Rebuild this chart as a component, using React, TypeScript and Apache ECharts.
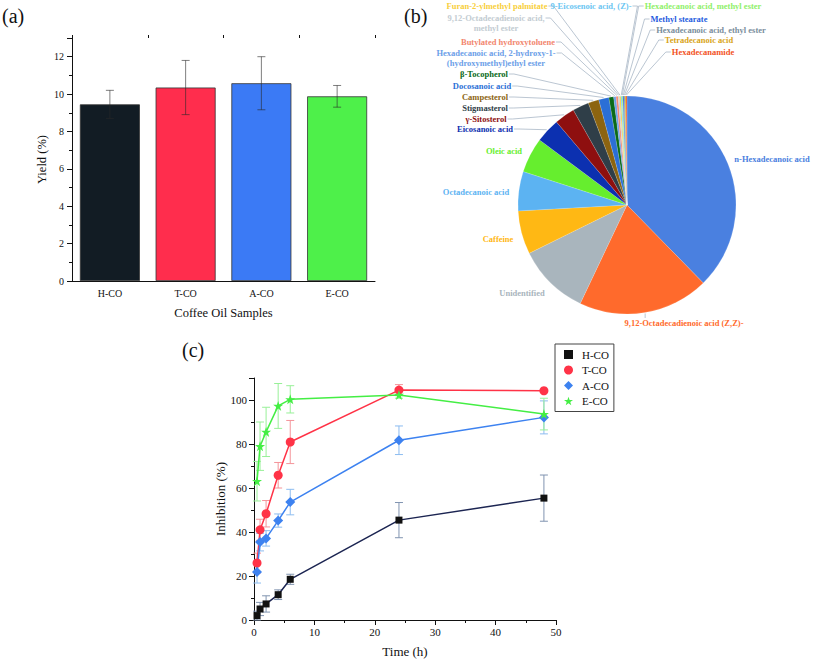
import React, { useEffect, useRef } from "react";
import * as echarts from "echarts";

// ---------- Panel (a): yield ----------
const sampleNames = ["H-CO", "T-CO", "A-CO", "E-CO"];
const yieldValues = [9.45, 10.35, 10.58, 9.88];
const yieldErrors = [0.75, 1.45, 1.42, 0.58];
const yieldTicks = [0, 2, 4, 6, 8, 10, 12];

// ---------- Panel (b): composition ----------
const compoundNames = [
  "n-Hexadecanoic acid",
  "9,12-Octadecadienoic acid (Z,Z)-",
  "Unidentified",
  "Caffeine",
  "Octadecanoic acid",
  "Oleic acid",
  "Eicosanoic acid",
  "γ-Sitosterol",
  "Stigmasterol",
  "Campesterol",
  "Docosanoic acid",
  "β-Tocopherol",
  "Hexadecanoic acid, 2-hydroxy-1-\n(hydroxymethyl)ethyl ester",
  "Butylated hydroxytoluene",
  "9,12-Octadecadienoic acid,\nmethyl ester",
  "Furan-2-ylmethyl palmitate",
  "9-Eicosenoic acid, (Z)-",
  "Hexadecanoic acid, methyl ester",
  "Methyl stearate",
  "Hexadecanoic acid, ethyl ester",
  "Tetradecanoic acid",
  "Hexadecanamide",
];
const compoundShares = [
  37.5, 19.3, 10.6, 6.4, 5.8, 5.2, 3.6, 3.0, 2.4, 1.6, 1.5, 0.7, 0.35, 0.3,
  0.2, 0.2, 0.15, 0.15, 0.15, 0.15, 0.15, 0.15,
];
const compoundColors = [
  "#4a80e0", "#ff6a2c", "#a9b5bd", "#ffb814", "#5cb3f2", "#66ee2e",
  "#0c30b0", "#8e0f0f", "#2f3e48", "#8c6410", "#2b6fd6", "#0a6a18",
  "#6b9ee8", "#f2866e", "#c3ccd2", "#f8cf3c", "#6cc6f2", "#8ff06a",
  "#1f5ce0", "#7a8e9c", "#d8a418", "#f2521e",
];

// ---------- Panel (c): inhibition ----------
const timePoints = [0.5, 1, 2, 4, 6, 24, 48];
const hcoValues = [2.0, 5.0, 7.3, 11.5, 18.5, 45.4, 55.4];
const hcoErrors = [2.0, 3.0, 3.7, 2.2, 2.3, 8.0, 10.5];
const tcoValues = [25.9, 41.0, 48.3, 65.8, 80.9, 104.5, 104.2];
const tcoErrors = [4.5, 4.8, 6.0, 5.8, 9.8, 2.5, 0.6];
const acoValues = [21.8, 35.4, 37.1, 45.2, 53.6, 81.7, 92.1];
const acoErrors = [5.0, 4.0, 3.5, 3.0, 5.8, 6.5, 7.5];
const ecoValues = [63.1, 79.0, 85.5, 97.3, 100.3, 102.3, 93.6];
const ecoErrors = [9.0, 11.0, 11.2, 10.2, 6.2, 1.5, 7.2];

// ---------- layout / style ----------
const SERIF = "'Liberation Serif', 'Times New Roman', serif";
const PIE_CENTER = [627, 205];
const PIE_RADIUS = 109;
// label centre x, centre y, side from which the leader line leaves
const pieLabelPlacement: [number, number, string][] = [
  [772, 159, "none"],
  [684, 323, "top"],
  [522, 293, "none"],
  [498, 239, "none"],
  [476, 192, "none"],
  [504, 151, "none"],
  [485, 129, "right"],
  [486, 119, "right"],
  [485, 108, "right"],
  [485, 97, "right"],
  [482, 86, "right"],
  [484, 74, "right"],
  [496, 58, "right"],
  [508, 42, "right"],
  [496, 23, "right"],
  [497, 6, "right"],
  [591, 6, "right"],
  [703, 6, "left"],
  [679, 19, "left"],
  [711, 30, "left"],
  [699, 40, "left"],
  [703, 52, "left"],
];

const STAR =
  "path://M50,0 L61.8,34.5 L97.6,34.5 L68.8,55.9 L79.4,90.5 L50,69 L20.6,90.5 L31.2,55.9 L2.4,34.5 L38.2,34.5 Z";

function sliceAnchor(i: number): [number, number] {
  const total = compoundShares.reduce((a, b) => a + b, 0);
  let cum = 0;
  for (let k = 0; k < i; k++) cum += compoundShares[k];
  const frac = (cum + compoundShares[i] / 2) / total;
  const th = frac * Math.PI * 2;
  const r = PIE_RADIUS + 1;
  return [PIE_CENTER[0] + r * Math.sin(th), PIE_CENTER[1] - r * Math.cos(th)];
}

function errorBarSeries(
  name: string,
  xs: number[],
  vals: number[],
  errs: number[],
  color: string,
  xAxisIndex: number,
  yAxisIndex: number,
  cap: number,
  categorical: boolean,
  z: number
) {
  const data = vals.map((v, i) => [categorical ? i : xs[i], v - errs[i], v + errs[i]]);
  return {
    type: "custom",
    name,
    xAxisIndex,
    yAxisIndex,
    data,
    z,
    encode: { x: 0, y: [1, 2] },
    silent: true,
    renderItem: (params: any, api: any) => {
      const x = api.value(0);
      const lo = api.coord([x, api.value(1)]);
      const hi = api.coord([x, api.value(2)]);
      const style = { stroke: color, lineWidth: 1 };
      return {
        type: "group",
        children: [
          { type: "line", shape: { x1: lo[0], y1: lo[1], x2: hi[0], y2: hi[1] }, style },
          { type: "line", shape: { x1: lo[0] - cap, y1: lo[1], x2: lo[0] + cap, y2: lo[1] }, style },
          { type: "line", shape: { x1: hi[0] - cap, y1: hi[1], x2: hi[0] + cap, y2: hi[1] }, style },
        ],
      };
    },
  };
}

const axisLineStyle = { lineStyle: { color: "#111", width: 1 } };

function buildOption() {
  const barColors = ["#121c24", "#ff2d4d", "#3b7af5", "#4ef04a"];

  const pieData = compoundNames.map((n, i) => ({
    name: n,
    value: compoundShares[i],
    itemStyle: { color: compoundColors[i] },
    label: { color: compoundColors[i] },
    labelLine: { show: pieLabelPlacement[i][2] !== "none" },
  }));

  return {
    animation: false,
    backgroundColor: "#ffffff",
    textStyle: { fontFamily: SERIF },
    graphic: [
      { type: "text", x: 2, y: 6, style: { text: "(a)", fontFamily: SERIF, fontSize: 20, fill: "#111" } },
      { type: "text", x: 404, y: 6, style: { text: "(b)", fontFamily: SERIF, fontSize: 20, fill: "#111" } },
      { type: "text", x: 182, y: 340, style: { text: "(c)", fontFamily: SERIF, fontSize: 20, fill: "#111" } },
    ],
    legend: {
      data: [
        { name: "H-CO", icon: "rect" },
        { name: "T-CO", icon: "circle" },
        { name: "A-CO", icon: "diamond" },
        { name: "E-CO", icon: STAR },
      ],
      orient: "vertical",
      left: 555,
      top: 344,
      itemWidth: 9,
      itemHeight: 9,
      itemGap: 4.5,
      padding: [5, 5, 5, 9],
      borderColor: "#444",
      borderWidth: 1,
      borderRadius: 0,
      selectedMode: false,
      textStyle: { fontFamily: SERIF, fontSize: 11, color: "#111", padding: [0, 0, 0, 4] },
    },
    grid: [
      { left: 72, top: 38, width: 303, height: 243, outerBoundsMode: "none", containLabel: false },
      { left: 254, top: 378, width: 302, height: 242, outerBoundsMode: "none", containLabel: false },
    ],
    xAxis: [
      {
        type: "category",
        gridIndex: 0,
        data: sampleNames,
        boundaryGap: true,
        axisLine: axisLineStyle,
        axisTick: { alignWithLabel: true, length: 4, lineStyle: { color: "#111" } },
        axisLabel: { fontFamily: SERIF, fontSize: 10, color: "#111", margin: 7 },
        name: "Coffee Oil Samples",
        nameLocation: "middle",
        nameGap: 25,
        nameTextStyle: { fontFamily: SERIF, fontSize: 12.5, color: "#111" },
      },
      {
        type: "value",
        gridIndex: 1,
        min: 0,
        max: 50,
        interval: 10,
        axisLine: { show: true, ...axisLineStyle },
        axisTick: { show: true, length: 5, lineStyle: { color: "#111" } },
        minorTick: { show: true, splitNumber: 2, length: 3, lineStyle: { color: "#111" } },
        splitLine: { show: false },
        axisLabel: { fontFamily: SERIF, fontSize: 11, color: "#111", margin: 6 },
        name: "Time (h)",
        nameLocation: "middle",
        nameGap: 25,
        nameTextStyle: { fontFamily: SERIF, fontSize: 13, color: "#111" },
      },
      {
        // boundary ticks between the sample categories in panel (a)
        type: "category",
        gridIndex: 0,
        data: sampleNames,
        boundaryGap: true,
        axisLine: { show: true, lineStyle: { color: "rgba(0,0,0,0)" } },
        axisLabel: { show: false },
        axisTick: { show: true, alignWithLabel: false, length: 3, lineStyle: { color: "#111" } },
      },
    ],
    yAxis: [
      {
        type: "value",
        gridIndex: 0,
        min: 0,
        max: 13,
        interval: 2,
        axisLine: { show: true, ...axisLineStyle },
        axisTick: { show: true, length: 5, lineStyle: { color: "#111" } },
        minorTick: { show: true, splitNumber: 2, length: 3, lineStyle: { color: "#111" } },
        splitLine: { show: false },
        axisLabel: {
          fontFamily: SERIF,
          fontSize: 10,
          color: "#111",
          margin: 8,
          showMaxLabel: false,
          formatter: (v: number) => (yieldTicks.indexOf(v) >= 0 ? String(v) : ""),
        },
        name: "Yield (%)",
        nameLocation: "middle",
        nameGap: 24,
        nameTextStyle: { fontFamily: SERIF, fontSize: 12.5, color: "#111" },
      },
      {
        type: "value",
        gridIndex: 1,
        min: 0,
        max: 110,
        interval: 20,
        axisLine: { show: true, ...axisLineStyle },
        axisTick: { show: true, length: 5, lineStyle: { color: "#111" } },
        minorTick: { show: true, splitNumber: 2, length: 3, lineStyle: { color: "#111" } },
        splitLine: { show: false },
        axisLabel: {
          fontFamily: SERIF,
          fontSize: 11,
          color: "#111",
          margin: 7,
          showMaxLabel: false,
          formatter: (v: number) => (v % 20 === 0 ? String(v) : ""),
        },
        name: "Inhibition (%)",
        nameLocation: "middle",
        nameGap: 27,
        nameTextStyle: { fontFamily: SERIF, fontSize: 13, color: "#111" },
      },
    ],
    series: [
      {
        type: "bar",
        name: "Yield",
        xAxisIndex: 0,
        yAxisIndex: 0,
        barWidth: 60,
        z: 2,
        data: yieldValues.map((v, i) => ({
          value: v,
          itemStyle: { color: barColors[i], borderColor: "#333", borderWidth: 0.8 },
        })),
      },
      errorBarSeries("yieldErr", [], yieldValues, yieldErrors, "rgba(40,40,40,0.6)", 0, 0, 4, true, 4),
      {
        type: "pie",
        name: "Compounds",
        center: PIE_CENTER,
        radius: PIE_RADIUS,
        startAngle: 90,
        clockwise: true,
        avoidLabelOverlap: false,
        minShowLabelAngle: 0,
        itemStyle: { borderColor: "rgba(255,255,255,0.35)", borderWidth: 0.4 },
        label: {
          show: true,
          position: "outside",
          formatter: "{b}",
          fontFamily: SERIF,
          fontWeight: "bold",
          fontSize: 8.5,
          lineHeight: 10,
        },
        labelLine: { show: true, length: 5, length2: 5, lineStyle: { color: "#a9b8c6", width: 0.8 } },
        labelLayout: (params: any) => {
          const i = params.dataIndex;
          const [px, py, side] = pieLabelPlacement[i];
          const w = params.labelRect.width;
          const h = params.labelRect.height;
          const res: any = { x: px, y: py, align: "center", verticalAlign: "middle" };
          if (side !== "none") {
            const [tx, ty] = sliceAnchor(i);
            const multi = compoundNames[i].indexOf("\n") >= 0;
            const sy = multi ? py - h / 4 : py;
            if (side === "right") {
              const sx = px + w / 2 + 1;
              res.labelLinePoints = [[sx, sy], [sx + 5, sy], [tx, ty]];
            } else if (side === "left") {
              const sx = px - w / 2 - 1;
              res.labelLinePoints = [[sx, sy], [sx - 5, sy], [tx, ty]];
            } else {
              const top = py - h / 2;
              res.labelLinePoints = [[tx, top], [tx, top], [tx, ty]];
            }
          }
          return res;
        },
        data: pieData,
      },
      errorBarSeries("hErr", timePoints, hcoValues, hcoErrors, "#8094b0", 1, 1, 4, false, 1),
      errorBarSeries("tErr", timePoints, tcoValues, tcoErrors, "#f4949a", 1, 1, 4, false, 1),
      errorBarSeries("aErr", timePoints, acoValues, acoErrors, "#8cbcf0", 1, 1, 4, false, 1),
      errorBarSeries("eErr", timePoints, ecoValues, ecoErrors, "#98f098", 1, 1, 4, false, 1),
      {
        type: "line",
        name: "H-CO",
        xAxisIndex: 1,
        yAxisIndex: 1,
        z: 3,
        data: timePoints.map((t, i) => [t, hcoValues[i]]),
        symbol: "rect",
        symbolSize: 7,
        lineStyle: { color: "#1c2552", width: 1.5 },
        itemStyle: { color: "#111111" },
      },
      {
        type: "line",
        name: "T-CO",
        xAxisIndex: 1,
        yAxisIndex: 1,
        z: 3,
        data: timePoints.map((t, i) => [t, tcoValues[i]]),
        symbol: "circle",
        symbolSize: 9,
        lineStyle: { color: "#ff3347", width: 1.5 },
        itemStyle: { color: "#ff3347" },
      },
      {
        type: "line",
        name: "A-CO",
        xAxisIndex: 1,
        yAxisIndex: 1,
        z: 3,
        data: timePoints.map((t, i) => [t, acoValues[i]]),
        symbol: "diamond",
        symbolSize: 10,
        lineStyle: { color: "#3d82f0", width: 1.5 },
        itemStyle: { color: "#3d82f0" },
      },
      {
        type: "line",
        name: "E-CO",
        xAxisIndex: 1,
        yAxisIndex: 1,
        z: 3,
        data: timePoints.map((t, i) => [t, ecoValues[i]]),
        symbol: STAR,
        symbolSize: 10,
        lineStyle: { color: "#44ee44", width: 1.5 },
        itemStyle: { color: "#44ee44" },
      },
    ],
  };
}

export default function App() {
  const ref = useRef<HTMLDivElement>(null);
  useEffect(() => {
    if (!ref.current) return;
    const chart = echarts.init(ref.current, null, { renderer: "svg" });
    chart.setOption(buildOption() as any);
    return () => chart.dispose();
  }, []);
  return (
    <div
      ref={ref}
      style={{ position: "absolute", left: 0, top: 0, width: 813, height: 662, background: "#fff" }}
    />
  );
}
